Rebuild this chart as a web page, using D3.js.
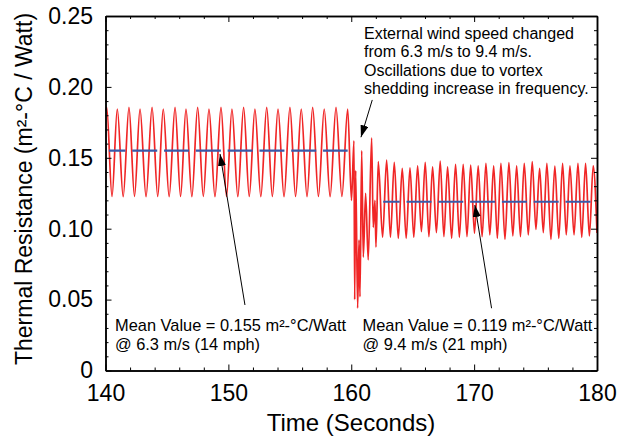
<!DOCTYPE html>
<html>
<head>
<meta charset="utf-8">
<script src="https://cdn.jsdelivr.net/npm/d3@7"></script>
<style>
	body { margin: 0; background: #fff; }
	svg { display: block; font-family: "Liberation Sans", Arial, sans-serif; }
</style>
</head>
<body>
<script>
// turning points of the thermal resistance trace, [time (s), R (m2-C/W)]
var before = [
	[140.00, 0.1830], [140.10, 0.1856], [140.53, 0.1228], [140.96, 0.1844], [141.44, 0.1226],
	[141.91, 0.1856], [142.36, 0.1228], [142.81, 0.1844], [143.30, 0.1226], [143.79, 0.1856],
	[144.25, 0.1228], [144.70, 0.1844], [145.18, 0.1226], [145.66, 0.1856], [146.11, 0.1228],
	[146.55, 0.1844], [147.03, 0.1226], [147.50, 0.1856], [147.96, 0.1228], [148.42, 0.1844],
	[148.91, 0.1226], [149.40, 0.1856], [149.85, 0.1228], [150.29, 0.1844], [150.77, 0.1226],
	[151.24, 0.1856], [151.70, 0.1228], [152.16, 0.1844], [152.64, 0.1226], [153.12, 0.1856],
	[153.58, 0.1228], [154.04, 0.1844], [154.53, 0.1226], [155.01, 0.1856], [155.47, 0.1228],
	[155.93, 0.1844], [156.40, 0.1226], [156.86, 0.1856], [157.33, 0.1228], [157.80, 0.1844],
	[158.28, 0.1226], [158.76, 0.1856], [159.24, 0.1228], [159.71, 0.1844]
];

var transient = [
	[160.02, 0.1200], [160.22, 0.1620], [160.28, 0.0500], [160.36, 0.1410], [160.52, 0.0440],
	[160.63, 0.0920], [160.71, 0.0520], [160.85, 0.1550], [160.98, 0.0800], [161.17, 0.1250],
	[161.38, 0.0780], [161.66, 0.1640], [161.79, 0.1010], [161.93, 0.1200], [162.01, 0.0870],
	[162.20, 0.1473], [162.55, 0.0940]
];

var after = [
	[162.88, 0.1484], [163.19, 0.0940], [163.50, 0.1468], [163.83, 0.0932], [164.15, 0.1426],
	[164.47, 0.0932], [164.78, 0.1430], [165.09, 0.0939], [165.40, 0.1444], [165.71, 0.0979],
	[166.02, 0.1468], [166.32, 0.0944], [166.62, 0.1437], [166.93, 0.0972], [167.24, 0.1477],
	[167.54, 0.0944], [167.84, 0.1437], [168.17, 0.0932], [168.49, 0.1454], [168.80, 0.0939],
	[169.11, 0.1454], [169.42, 0.0944], [169.72, 0.1449], [170.03, 0.0968], [170.33, 0.1444],
	[170.65, 0.0944], [170.96, 0.1461], [171.28, 0.0956], [171.59, 0.1444], [171.89, 0.0932],
	[172.18, 0.1461], [172.51, 0.0925], [172.83, 0.1466], [173.15, 0.0949], [173.46, 0.1444],
	[173.77, 0.0944], [174.08, 0.1461], [174.41, 0.0956], [174.73, 0.1473], [175.03, 0.0995],
	[175.33, 0.1426], [175.63, 0.0972], [175.92, 0.1461], [176.25, 0.0925], [176.57, 0.1442],
	[176.89, 0.0932], [177.20, 0.1461], [177.50, 0.0956], [177.80, 0.1444], [178.13, 0.0956],
	[178.45, 0.1461], [178.76, 0.0939], [179.07, 0.1461], [179.38, 0.0949], [179.69, 0.1444],
	[180.00, 0.0970]
];

// mean values: [start time, end time, value]
var means = [[140.28, 159.71, 0.155], [162.60, 179.56, 0.119]];

var x_ticks = [140, 150, 160, 170, 180];
var y_ticks = [0, 0.05, 0.10, 0.15, 0.20, 0.25];
var x_minor = [142, 144, 146, 148, 152, 154, 156, 158, 162, 164, 166, 168, 172, 174, 176, 178];
var y_minor = [0.01, 0.02, 0.03, 0.04, 0.06, 0.07, 0.08, 0.09, 0.11, 0.12, 0.13, 0.14,
	0.16, 0.17, 0.18, 0.19, 0.21, 0.22, 0.23, 0.24];

var wind_note = ["External wind speed changed", "from 6.3 m/s to 9.4 m/s.",
	"Oscillations due to vortex", "shedding increase in frequency."];
var left_note = ["Mean Value = 0.155 m\u00b2-\u00b0C/Watt", "@ 6.3 m/s (14 mph)"];
var right_note = ["Mean Value = 0.119 m\u00b2-\u00b0C/Watt", "@ 9.4 m/s (21 mph)"];

var W = 618, H = 439;
var plot_l = 105.5, plot_r = 597, plot_t = 16, plot_b = 370.5;

var svg = d3.select("body").append("svg")
	.attr("width", W)
	.attr("height", H);

var x = d3.scaleLinear().domain([140, 180]).range([plot_l, plot_r]);
var y = d3.scaleLinear().domain([0, 0.25]).range([plot_b, plot_t]);

var defs = svg.append("defs");
defs.append("clipPath")
	.attr("id", "plot-clip")
	.append("rect")
	.attr("x", plot_l).attr("y", plot_t)
	.attr("width", plot_r - plot_l).attr("height", plot_b - plot_t);

var marker = defs.append("marker")
	.attr("id", "arrow-head")
	.attr("markerUnits", "userSpaceOnUse")
	.attr("viewBox", "0 0 12 8")
	.attr("refX", 12).attr("refY", 4)
	.attr("markerWidth", 12).attr("markerHeight", 8)
	.attr("orient", "auto");
marker.append("path").attr("d", "M0,0 L12,4 L0,8 Z").attr("fill", "#000");

// trace
var line = d3.line()
	.x(function(d) { return x(d[0]); })
	.y(function(d) { return y(d[1]); })
	.curve(d3.curveMonotoneX);

svg.append("path")
	.datum(before.concat(transient, after))
	.attr("clip-path", "url(#plot-clip)")
	.attr("d", line)
	.attr("fill", "none")
	.attr("stroke", "#f02626")
	.attr("stroke-width", 1.7)
	.attr("stroke-linejoin", "round");

// dashed mean lines
svg.selectAll(".mean")
	.data(means)
	.enter().append("line")
	.attr("class", "mean")
	.attr("x1", function(d) { return x(d[0]); })
	.attr("x2", function(d) { return x(d[1]); })
	.attr("y1", function(d) { return y(d[2]); })
	.attr("y2", function(d) { return y(d[2]); })
	.attr("stroke", "#3a5aa8")
	.attr("stroke-width", 2.2)
	.attr("stroke-dasharray", "25,6.8")
	.attr("stroke-dashoffset", 8.5);

// axes, ticks pointing inwards on all four sides
function draw_axis(axis, tx, ty, labels) {
	var g = svg.append("g")
		.attr("transform", "translate(" + tx + "," + ty + ")")
		.call(axis);
	g.select(".domain").attr("stroke-width", 1.5);
	g.selectAll(".tick line").attr("stroke-width", 1);
	if (labels) {
		g.selectAll(".tick text").attr("font-size", 23).attr("fill", "#000")
			.attr("font-family", "Liberation Sans, Arial, sans-serif");
	} else {
		g.selectAll(".tick text").remove();
	}
	return g;
}

var y_fmt = function(d) { return d === 0 ? "0" : d3.format(".2f")(d); };

draw_axis(d3.axisBottom(x).tickValues(x_ticks).tickSize(-6).tickSizeOuter(0).tickPadding(14), 0, plot_b, true);
draw_axis(d3.axisBottom(x).tickValues(x_minor).tickSize(-3).tickSizeOuter(0), 0, plot_b, false);
draw_axis(d3.axisTop(x).tickValues(x_ticks).tickSize(-6).tickSizeOuter(0), 0, plot_t, false);
draw_axis(d3.axisTop(x).tickValues(x_minor).tickSize(-3).tickSizeOuter(0), 0, plot_t, false);
draw_axis(d3.axisLeft(y).tickValues(y_ticks).tickFormat(y_fmt).tickSize(-6).tickSizeOuter(0).tickPadding(12.5), plot_l, 0, true);
draw_axis(d3.axisLeft(y).tickValues(y_minor).tickSize(-3).tickSizeOuter(0), plot_l, 0, false);
draw_axis(d3.axisRight(y).tickValues(y_ticks).tickSize(-6).tickSizeOuter(0), plot_r, 0, false);
draw_axis(d3.axisRight(y).tickValues(y_minor).tickSize(-3).tickSizeOuter(0), plot_r, 0, false);

// axis titles
svg.append("text")
	.attr("x", 351).attr("y", 431)
	.attr("text-anchor", "middle")
	.attr("font-size", 24)
	.text("Time (Seconds)");

svg.append("text")
	.attr("transform", "translate(32,189) rotate(-90)")
	.attr("text-anchor", "middle")
	.attr("font-size", 23)
	.text("Thermal Resistance (m\u00b2-\u00b0C / Watt)");

// annotations
function note(lines, px, py, step, size) {
	var t = svg.append("text").attr("font-size", size).attr("fill", "#000");
	t.selectAll("tspan")
		.data(lines)
		.enter().append("tspan")
		.attr("x", px)
		.attr("y", function(d, i) { return py + i * step; })
		.text(function(d) { return d; });
}

function arrow(t0, v0, t1, v1) {
	svg.append("line")
		.attr("x1", x(t0)).attr("y1", y(v0))
		.attr("x2", x(t1)).attr("y2", y(v1))
		.attr("stroke", "#000")
		.attr("stroke-width", 1)
		.attr("marker-end", "url(#arrow-head)");
}

note(wind_note, 364, 39, 18.3, 16);
note(left_note, 115, 331, 18.5, 16.4);
note(right_note, 362.5, 331, 18.5, 16.4);

arrow(161.71, 0.1908, 160.79, 0.1645);
arrow(151.35, 0.0462, 149.32, 0.1527);
arrow(171.42, 0.0439, 170.06, 0.1167);
</script>
</body>
</html>
